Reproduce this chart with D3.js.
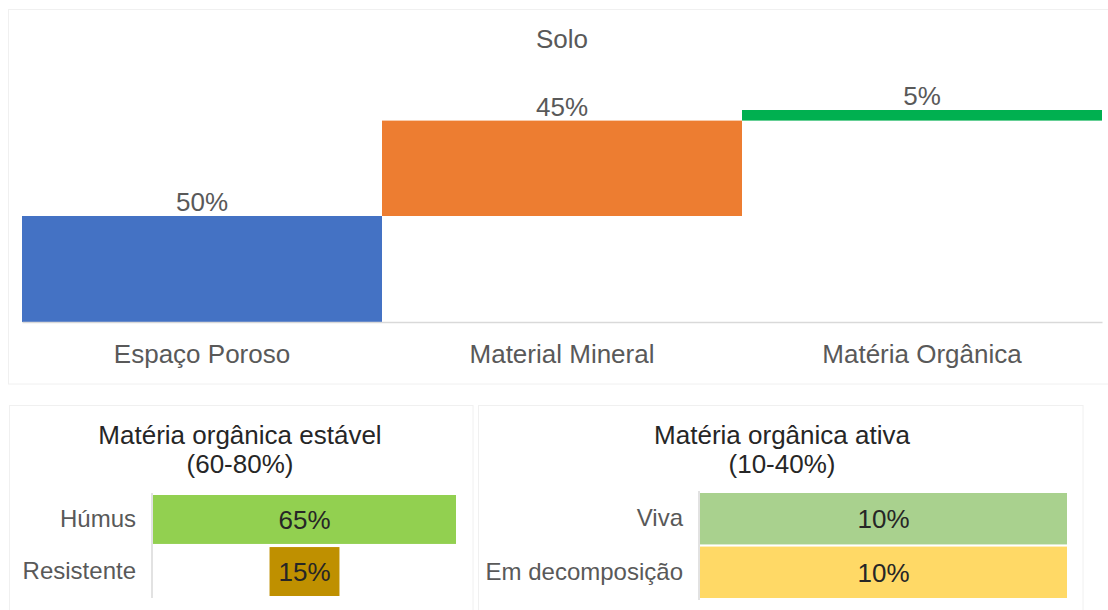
<!DOCTYPE html>
<html>
<head>
<meta charset="utf-8">
<script src="https://cdn.jsdelivr.net/npm/d3@7"></script>
<style>
  html, body { margin: 0; padding: 0; background: #ffffff; }
  svg { display: block; font-family: "Liberation Sans", Arial, sans-serif; }
</style>
</head>
<body>
<svg id="chart" width="1108" height="610"></svg>
<script>
// ---- data ----
const soloTitle = "Solo";
const soloCategories = ["Espaço Poroso", "Material Mineral", "Matéria Orgânica"];
const soloValues = [50, 45, 5];

const estavelTitle = ["Matéria orgânica estável", "(60-80%)"];
const estavelCategories = ["Húmus", "Resistente"];
const estavelValues = [65, 15];

const ativaTitle = ["Matéria orgânica ativa", "(10-40%)"];
const ativaCategories = ["Viva", "Em decomposição"];
const ativaValues = [10, 10];

// ---- styles ----
const soloColors = ["#4472c4", "#ed7d31", "#00b050"];
const estavelColors = ["#92d050", "#bf9000"];
const ativaColors = ["#a9d18e", "#ffd966"];
const grayText = "#595959";
const darkText = "#262626";
const panelStroke = "#f0f0f0";
const axisStroke = "#d9d9d9";
const bigFont = 26;
const catFont = 24;

const svg = d3.select("#chart");

// panels
const panels = [
  {x: 8.5, y: 9.5, w: 1110, h: 374.5},
  {x: 9.5, y: 405.5, w: 463.5, h: 220},
  {x: 478.5, y: 405.5, w: 604.5, h: 220}
];
svg.selectAll("rect.panel").data(panels).join("rect")
  .attr("class", "panel")
  .attr("x", d => d.x).attr("y", d => d.y)
  .attr("width", d => d.w).attr("height", d => d.h)
  .attr("fill", "#ffffff").attr("stroke", panelStroke).attr("stroke-width", 1);

// ---- top waterfall ----
const starts = [];
soloValues.reduce((acc, v, i) => { starts[i] = acc; return acc + v; }, 0);

const xTop = d3.scaleBand().domain(soloCategories).range([22, 1102]).padding(0);
const yTop = d3.scaleLinear().domain([0, 100]).range([322, 110]);

const gTop = svg.append("g");
gTop.append("text")
  .attr("x", 562).attr("y", 48)
  .attr("text-anchor", "middle")
  .attr("font-size", bigFont).attr("fill", grayText)
  .text(soloTitle);

gTop.selectAll("rect.bar").data(soloCategories).join("rect")
  .attr("class", "bar")
  .attr("x", d => xTop(d))
  .attr("width", xTop.bandwidth())
  .attr("y", (d, i) => yTop(starts[i] + soloValues[i]))
  .attr("height", (d, i) => yTop(starts[i]) - yTop(starts[i] + soloValues[i]))
  .attr("fill", (d, i) => soloColors[i]);

gTop.selectAll("text.val").data(soloCategories).join("text")
  .attr("class", "val")
  .attr("x", d => xTop(d) + xTop.bandwidth() / 2)
  .attr("y", (d, i) => yTop(starts[i] + soloValues[i]) - 5)
  .attr("text-anchor", "middle")
  .attr("font-size", bigFont).attr("fill", grayText)
  .text((d, i) => soloValues[i] + "%");

const xAxisTop = gTop.append("g")
  .attr("transform", `translate(0,${yTop(0)})`)
  .call(d3.axisBottom(xTop).tickSize(0).tickPadding(23));
xAxisTop.select(".domain").attr("stroke", axisStroke).attr("stroke-width", 1.5);
xAxisTop.selectAll("text")
  .attr("font-size", bigFont).attr("fill", grayText)
  .attr("font-family", "Liberation Sans, Arial, sans-serif");

// ---- funnel helper ----
function funnel(opts) {
  const g = svg.append("g");
  g.selectAll("text.title").data(opts.title).join("text")
    .attr("class", "title")
    .attr("x", opts.cx)
    .attr("y", (d, i) => opts.titleY + i * 29)
    .attr("text-anchor", "middle")
    .attr("font-size", bigFont).attr("fill", darkText)
    .text(d => d);

  const x = d3.scaleLinear().domain([0, d3.max(opts.values)]).range([0, opts.x1 - opts.x0]);
  const y = d3.scaleBand().domain(opts.categories).range([opts.y0, opts.y1]).paddingInner(opts.pad);
  const mid = (opts.x0 + opts.x1) / 2;

  g.selectAll("rect.bar").data(opts.categories).join("rect")
    .attr("class", "bar")
    .attr("x", (d, i) => mid - x(opts.values[i]) / 2)
    .attr("width", (d, i) => x(opts.values[i]))
    .attr("y", d => y(d))
    .attr("height", y.bandwidth())
    .attr("fill", (d, i) => opts.colors[i]);

  g.selectAll("text.val").data(opts.categories).join("text")
    .attr("class", "val")
    .attr("x", mid)
    .attr("y", d => y(d) + y.bandwidth() / 2)
    .attr("dy", "0.36em")
    .attr("text-anchor", "middle")
    .attr("font-size", bigFont).attr("fill", darkText)
    .text((d, i) => opts.values[i] + "%");

  const ax = g.append("g")
    .attr("transform", `translate(${opts.axisX},0)`)
    .call(d3.axisLeft(y).tickSize(0).tickPadding(16));
  ax.select(".domain").attr("stroke", axisStroke).attr("stroke-width", 1.5)
    .attr("d", `M0,${opts.y0 - 2}V${opts.y1 + 2}`);
  ax.selectAll("text")
    .attr("font-size", catFont).attr("fill", grayText)
    .attr("font-family", "Liberation Sans, Arial, sans-serif");
}

funnel({
  title: estavelTitle, cx: 240, titleY: 444,
  categories: estavelCategories, values: estavelValues, colors: estavelColors,
  x0: 153, x1: 456, y0: 495, y1: 596, pad: 0.06, axisX: 152
});

funnel({
  title: ativaTitle, cx: 782, titleY: 444,
  categories: ativaCategories, values: ativaValues, colors: ativaColors,
  x0: 700, x1: 1067, y0: 493, y1: 598, pad: 0.04, axisX: 699
});
</script>
</body>
</html>
